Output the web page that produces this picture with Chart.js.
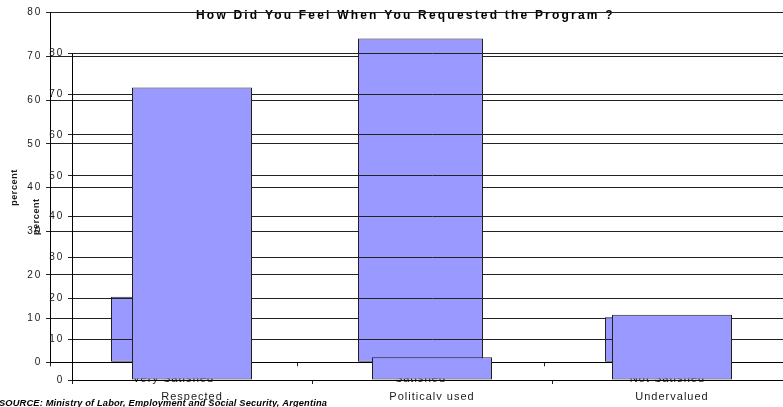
<!DOCTYPE html>
<html>
<head>
<meta charset="utf-8">
<script src="https://cdn.jsdelivr.net/npm/chart.js@4/dist/chart.umd.min.js"></script>
<style>
  html, body { margin: 0; padding: 0; background: #fff; }
  #wrap { position: relative; width: 783px; height: 407px; overflow: hidden; background: #fff; }
  #wrap canvas { position: absolute; left: 0; top: 0; }
</style>
</head>
<body>
<div id="wrap">
  <canvas id="satisfaction" width="800" height="407"></canvas>
  <canvas id="feeling" width="800" height="407"></canvas>
</div>
<script>
// ---- chart data ----
const chartTitle = 'How Did You Feel When You Requested the Program ?';
const sourceNote = 'SOURCE: Ministry of Labor, Employment and Social Security, Argentina';
const axisTitle = 'percent';
const percentTicks = [0, 10, 20, 30, 40, 50, 60, 70, 80];

const satisfactionLabels = ['Very Satisfied', 'Satisfied', 'Not Satisfied'];
const satisfactionValues = [15.0, 74.1, 10.3];

const feelingLabels = ['Respected', 'Politicaly used', 'Undervalued'];
const feelingValues = [71.6, 5.6, 16.0];

// ---- styling ----
const FONT = "'Liberation Sans', Arial, sans-serif";
const INK = '#1a1a1a';
const GRID = '#222';
const BAR_FILL = '#9999ff';
const BAR_EDGE = '#202020';

Chart.defaults.font.family = FONT;

// Wraps a scale drawing method so its text is drawn with extra letter spacing.
function spaced(fn, spacing) {
  return function (...args) {
    const c = this.ctx;
    const prev = c.letterSpacing;
    c.letterSpacing = spacing;
    fn.apply(this, args);
    c.letterSpacing = prev;
  };
}

const letterSpacingPlugin = {
  id: 'letterSpacing',
  beforeDraw(chart, args, opts) {
    for (const [id, scale] of Object.entries(chart.scales)) {
      if (scale._spacedText) continue;
      scale._spacedText = true;
      const cfg = opts[id] || {};
      scale.drawLabels = spaced(scale.drawLabels, cfg.labels || '0px');
      scale.drawTitle = spaced(scale.drawTitle, cfg.title || '0px');
    }
  }
};

const headingPlugin = {
  id: 'heading',
  beforeDraw(chart) {
    const c = chart.ctx;
    c.save();
    c.font = 'bold 12px ' + FONT;
    c.letterSpacing = '2.2px';
    c.fillStyle = '#000';
    c.textAlign = 'left';
    c.textBaseline = 'alphabetic';
    c.fillText(chartTitle, 196, 18.5);
    c.restore();
  }
};

const sourcePlugin = {
  id: 'sourceNote',
  afterDraw(chart) {
    const c = chart.ctx;
    c.save();
    c.font = 'italic bold 9.3px ' + FONT;
    c.letterSpacing = '0.15px';
    c.fillStyle = '#000';
    c.textAlign = 'left';
    c.textBaseline = 'alphabetic';
    c.fillText(sourceNote, -1, 405.5);
    c.restore();
  }
};

function percentAxis(width, titlePad) {
  return {
    min: 0,
    max: 80,
    afterBuildTicks: s => { s.ticks = percentTicks.map(v => ({ value: v })); },
    afterFit: s => { s.width = width; },
    ticks: { font: { size: 10 }, color: INK, padding: 4 },
    grid: { color: GRID, lineWidth: 1, tickLength: 4, tickColor: GRID },
    border: { color: '#000', width: 1 },
    title: {
      display: true,
      text: axisTitle,
      font: { size: 9, weight: 'bold' },
      color: INK,
      padding: { top: titlePad, bottom: 0 }
    }
  };
}

function categoryAxis(height) {
  return {
    afterFit: s => { s.height = height; },
    ticks: { font: { size: 11 }, color: INK, padding: 6, maxRotation: 0, autoSkip: false },
    grid: { display: true, drawOnChartArea: false, drawTicks: true, tickLength: 4, tickColor: GRID, offset: true },
    border: { color: '#000', width: 1 }
  };
}

function barChart(canvasId, labels, values, opts) {
  return new Chart(document.getElementById(canvasId), {
    type: 'bar',
    data: {
      labels: labels,
      datasets: [{
        data: values,
        backgroundColor: BAR_FILL,
        borderColor: BAR_EDGE,
        borderWidth: 1,
        borderSkipped: false,
        categoryPercentage: 1,
        barPercentage: opts.barPercentage
      }]
    },
    options: {
      responsive: false,
      animation: false,
      devicePixelRatio: 1,
      layout: { padding: opts.padding },
      scales: {
        x: categoryAxis(opts.xHeight),
        y: percentAxis(opts.yWidth, opts.titlePad)
      },
      plugins: {
        legend: { display: false },
        tooltip: { enabled: false },
        letterSpacing: {
          x: { labels: '1px' },
          y: { labels: '1.8px', title: '0.6px' }
        }
      }
    },
    plugins: [letterSpacingPlugin].concat(opts.extra || [])
  });
}

// satisfaction survey (drawn underneath)
barChart('satisfaction', satisfactionLabels, satisfactionValues, {
  barPercentage: 0.506,
  padding: { top: 12.7, bottom: 14.7, left: 0, right: 9 },
  xHeight: 30,
  yWidth: 50,
  titlePad: 9,
  extra: [headingPlugin]
});

// feelings when requesting the programme (drawn on top)
barChart('feeling', feelingLabels, feelingValues, {
  barPercentage: 0.5,
  padding: { top: 53.3, bottom: 7, left: 0, right: 8 },
  xHeight: 20,
  yWidth: 72,
  titlePad: 31.5,
  extra: [sourcePlugin]
});
</script>
</body>
</html>
